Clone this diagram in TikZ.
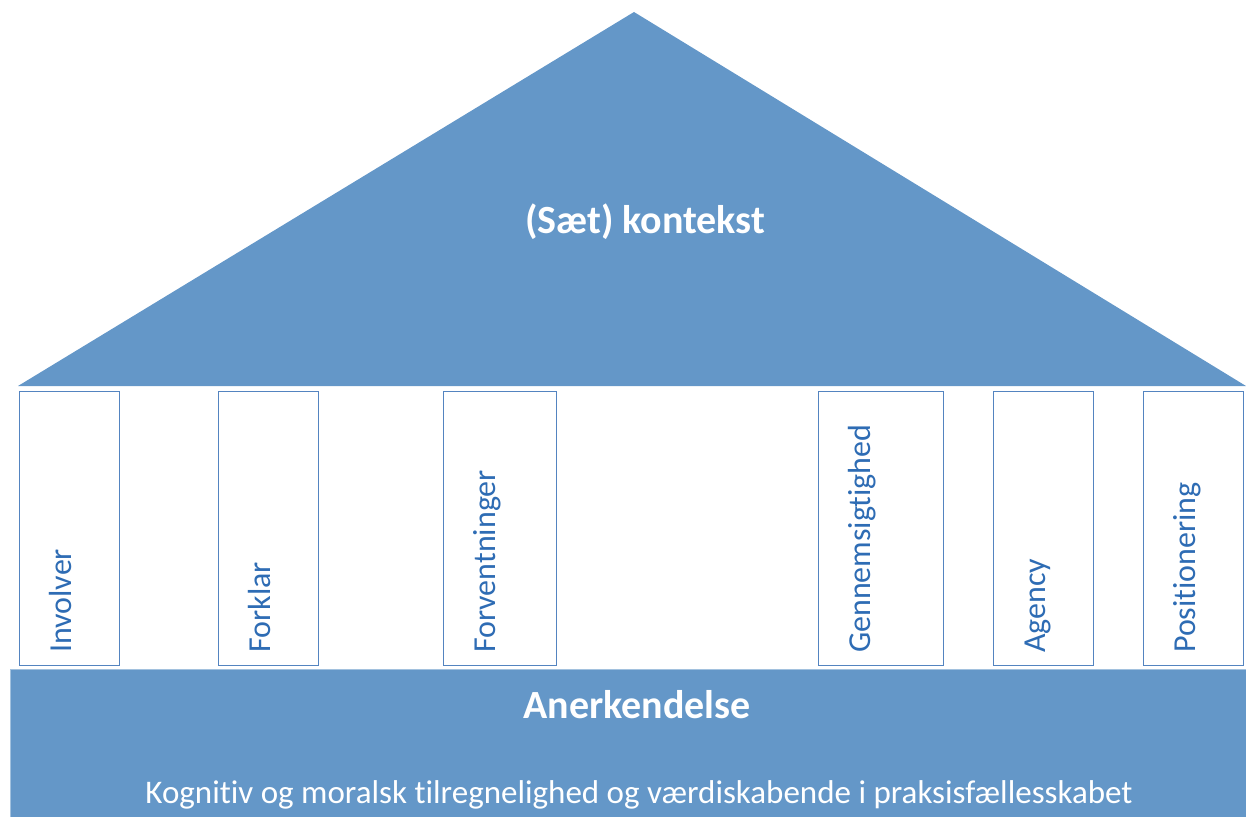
\documentclass[tikz,border=0pt]{standalone}
\usepackage{fontspec}
\setmainfont[Ligatures=NoCommon]{Carlito}
\definecolor{roofblue}{RGB}{100,151,200}
\definecolor{pillarline}{RGB}{84,132,192}
\definecolor{pillartext}{RGB}{46,108,180}
\tikzset{
  pillarbox/.style={draw=pillarline, line width=1.3pt, fill=white, rectangle, inner sep=0pt, anchor=north west, minimum height=274pt},
  pillarlabel/.style={rotate=90, anchor=base west, inner sep=0pt, text=pillartext, font=\fontsize{32}{38}\selectfont},
  whitetitle/.style={text=white, font=\fontsize{40}{46}\selectfont\bfseries, inner sep=0pt},
}
\begin{document}
\begin{tikzpicture}[x=1pt,y=-1pt]
\useasboundingbox (0,0) rectangle (1246,816);
% roof
\fill[roofblue] (634,12) -- (1246,386) -- (18,386) -- cycle;
\node[whitetitle] (roof) at (645,222) {(Sæt) kontekst};
% pillars
\node[pillarbox, minimum width=100pt] (p1) at (19,391) {};
\node[pillarbox, minimum width=100pt] (p2) at (218,391) {};
\node[pillarbox, minimum width=113pt] (p3) at (443,391) {};
\node[pillarbox, minimum width=125pt] (p4) at (818,391) {};
\node[pillarbox, minimum width=100pt] (p5) at (993,391) {};
\node[pillarbox, minimum width=100pt] (p6) at (1143,391) {};
\node[pillarlabel] (t1) at (71,653) {Involver};
\node[pillarlabel] (t2) at (270,653) {Forklar};
\node[pillarlabel] (t3) at (495,653) {Forventninger};
\node[pillarlabel] (t4) at (870,653) {Gennemsigtighed};
\node[pillarlabel] (t5) at (1045,653) {Agency};
\node[pillarlabel] (t6) at (1195,653) {Positionering};
% base
\node[fill=roofblue, draw=roofblue!60!white, line width=0.8pt, rectangle, anchor=north west, inner sep=0pt, minimum width=1236pt, minimum height=148pt] (base) at (10,669) {};
\node[whitetitle] (anerk) at (637,705) {Anerkendelse};
\node[text=white, inner sep=0pt, font=\fontsize{33}{38}\selectfont] (sub) at (639,795) {Kognitiv og moralsk tilregnelighed og værdiskabende i praksisfællesskabet};
\end{tikzpicture}
\end{document}
